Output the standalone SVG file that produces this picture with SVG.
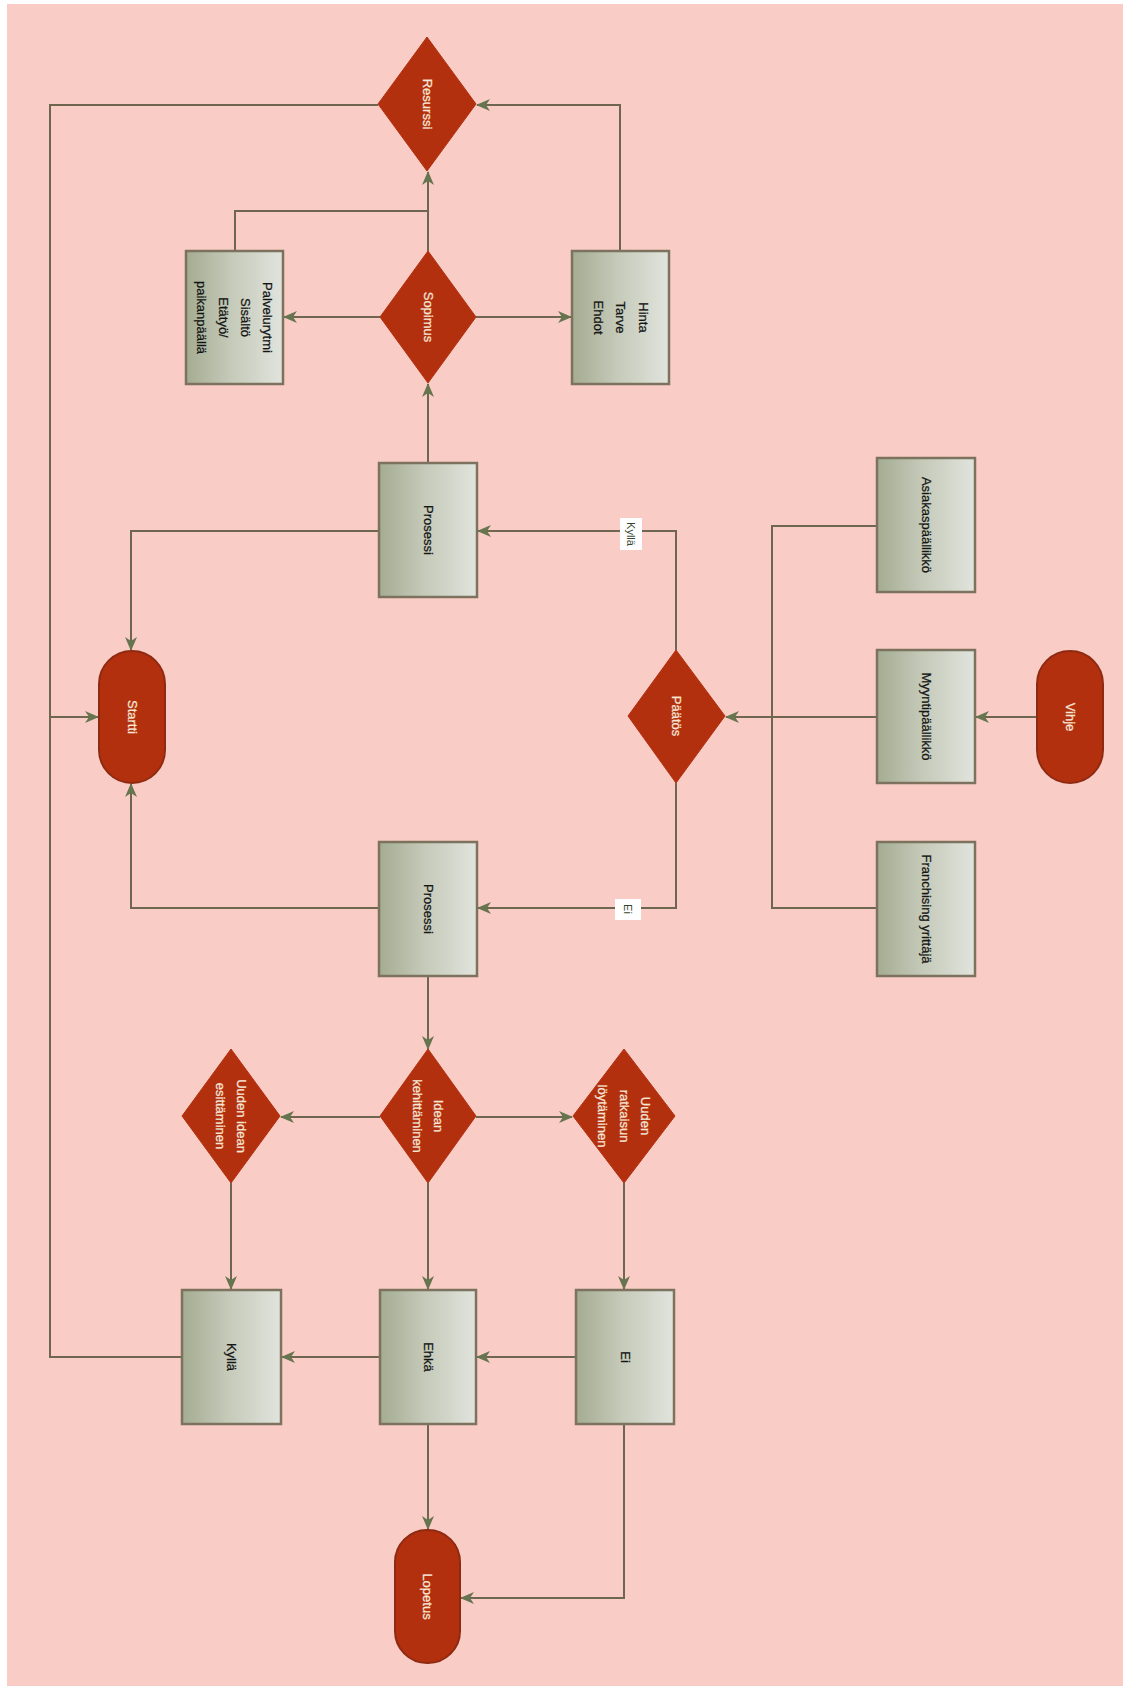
<svg xmlns="http://www.w3.org/2000/svg" width="1123" height="1686" viewBox="0 0 1123 1686">
  <defs>
    <linearGradient id="boxFill" x1="0" y1="0" x2="1" y2="0">
      <stop offset="0" stop-color="#a4ac91"/>
      <stop offset="0.45" stop-color="#c4c9b8"/>
      <stop offset="1" stop-color="#e1e4dd"/>
    </linearGradient>
    <marker id="arrow" viewBox="0 0 14 12" refX="13" refY="6" markerWidth="14" markerHeight="12" markerUnits="userSpaceOnUse" orient="auto">
      <path d="M0,0 L14,6 L0,12 L4,6 z" fill="#66744f"/>
    </marker>
  </defs>
  <style>
    .box { fill: url(#boxFill); stroke: #7c725e; stroke-width: 2.5; }
    .dec { fill: #b3300f; stroke: #b3300f; stroke-width: 1; }
    .term { fill: #b3300f; stroke: #8f2a12; stroke-width: 2; }
    .edge { fill: none; stroke: #6f6650; stroke-width: 2; }
    .arr { marker-end: url(#arrow); }
    .t { font-family: "Liberation Sans", Arial, sans-serif; font-size: 13px; text-anchor: middle; }
    .dark { fill: #151515; stroke: #151515; stroke-width: 0.25; }
    .light { fill: #f6e6d6; stroke: #f6e6d6; stroke-width: 0.25; }
    .lbl { fill: #ffffff; }
    .lt { font-family: "Liberation Sans", Arial, sans-serif; font-size: 11px; text-anchor: middle; fill: #34452c; }
  </style>

  <!-- page -->
  <rect x="0" y="0" width="1123" height="1686" fill="#ffffff"/>
  <rect x="7" y="4" width="1116" height="1682" fill="#f9cdc5"/>

  <!-- connectors -->
  <g id="connectors">
    <path class="edge arr" d="M378,105 H50 V717 H98"/>
    <path class="edge" d="M182,1357 H50 V717"/>
    <path class="edge arr" d="M620,251 V105 H477"/>
    <path class="edge" d="M235,251 V211 H428"/>
    <path class="edge arr" d="M428,251 V172"/>
    <path class="edge arr" d="M380,317 H284"/>
    <path class="edge arr" d="M476,317 H571"/>
    <path class="edge arr" d="M428,463 V384"/>
    <path class="edge arr" d="M379,531 H131 V650"/>
    <path class="edge arr" d="M676,650 V531 H478"/>
    <path class="edge arr" d="M676,783 V908 H478"/>
    <path class="edge arr" d="M379,908 H131 V784"/>
    <path class="edge" d="M877,526 H772 V908 H877"/>
    <path class="edge arr" d="M877,717 H726"/>
    <path class="edge arr" d="M1037,717 H976"/>
    <path class="edge arr" d="M428,976 V1049"/>
    <path class="edge arr" d="M380,1117 H281"/>
    <path class="edge arr" d="M476,1117 H572"/>
    <path class="edge arr" d="M231,1183 V1289"/>
    <path class="edge arr" d="M428,1183 V1289"/>
    <path class="edge arr" d="M624,1183 V1289"/>
    <path class="edge arr" d="M576,1357 H477"/>
    <path class="edge arr" d="M380,1357 H282"/>
    <path class="edge arr" d="M428,1424 V1529"/>
    <path class="edge arr" d="M624,1424 V1598 H461"/>
    <!-- edge labels -->
    <rect x="620" y="518" width="22" height="32" class="lbl"/>
    <text class="lt" transform="translate(631,534) rotate(90)" y="4">Kyllä</text>
    <rect x="615" y="899" width="26" height="21" class="lbl"/>
    <text class="lt" transform="translate(628,909) rotate(90)" y="4">Ei</text>
  </g>

  <!-- decisions -->
  <g id="resurssi">
    <polygon class="dec" points="427,37 476,104 427,171 378,104"/>
    <text class="t light" transform="translate(427,104) rotate(90)" y="4.5">Resurssi</text>
  </g>
  <g id="sopimus">
    <polygon class="dec" points="428,251 476,317 428,383 380,317"/>
    <text class="t light" transform="translate(428,317) rotate(90)" y="4.5">Sopimus</text>
  </g>
  <g id="paatos">
    <polygon class="dec" points="676,650 725,716 676,783 628,716"/>
    <text class="t light" transform="translate(676,716) rotate(90)" y="4.5">Päätös</text>
  </g>
  <g id="ideankehittaminen">
    <polygon class="dec" points="428,1049 476,1116 428,1183 380,1116"/>
    <text class="t light" transform="translate(428,1116) rotate(90)">
      <tspan x="0" y="-6">Idean</tspan><tspan x="0" y="15">kehittäminen</tspan>
    </text>
  </g>
  <g id="uuden-idean">
    <polygon class="dec" points="231,1049 280,1116 231,1183 182,1116"/>
    <text class="t light" transform="translate(231,1116) rotate(90)">
      <tspan x="0" y="-6">Uuden idean</tspan><tspan x="0" y="15">esittäminen</tspan>
    </text>
  </g>
  <g id="uuden-ratkaisun">
    <polygon class="dec" points="624,1049 675,1116 624,1183 573,1116"/>
    <text class="t light" transform="translate(624,1116) rotate(90)">
      <tspan x="0" y="-17">Uuden</tspan><tspan x="0" y="4.5">ratkaisun</tspan><tspan x="0" y="26">löytäminen</tspan>
    </text>
  </g>

  <!-- processes -->
  <g id="palvelurytmi">
    <rect class="box" x="186" y="251" width="97" height="133"/>
    <text class="t dark" transform="translate(234.5,317.5) rotate(90)">
      <tspan x="0" y="-28.5">Palvelurytmi</tspan><tspan x="0" y="-6.5">Sisältö</tspan><tspan x="0" y="15.5">Etätyö/</tspan><tspan x="0" y="37.5">paikanpäällä</tspan>
    </text>
  </g>
  <g id="hinta">
    <rect class="box" x="572" y="251" width="97" height="133"/>
    <text class="t dark" transform="translate(620.5,317.5) rotate(90)">
      <tspan x="0" y="-18">Hinta</tspan><tspan x="0" y="4.5">Tarve</tspan><tspan x="0" y="27">Ehdot</tspan>
    </text>
  </g>
  <g id="prosessi-1">
    <rect class="box" x="379" y="463" width="98" height="134"/>
    <text class="t dark" transform="translate(428,530) rotate(90)" y="4.5">Prosessi</text>
  </g>
  <g id="prosessi-2">
    <rect class="box" x="379" y="842" width="98" height="134"/>
    <text class="t dark" transform="translate(428,909) rotate(90)" y="4.5">Prosessi</text>
  </g>
  <g id="asiakaspaallikko">
    <rect class="box" x="877" y="458" width="98" height="134"/>
    <text class="t dark" transform="translate(926,525) rotate(90)" y="4.5">Asiakaspäällikkö</text>
  </g>
  <g id="myyntipaallikko">
    <rect class="box" x="877" y="650" width="98" height="133"/>
    <text class="t dark" transform="translate(926,716.5) rotate(90)" y="4.5">Myyntipäällikkö</text>
  </g>
  <g id="franchising">
    <rect class="box" x="877" y="842" width="98" height="134"/>
    <text class="t dark" transform="translate(926,909) rotate(90)" y="4.5">Franchising yrittäjä</text>
  </g>
  <g id="kylla">
    <rect class="box" x="182" y="1290" width="99" height="134"/>
    <text class="t dark" transform="translate(231.5,1357) rotate(90)" y="4.5">Kyllä</text>
  </g>
  <g id="ehka">
    <rect class="box" x="380" y="1290" width="96" height="134"/>
    <text class="t dark" transform="translate(428,1357) rotate(90)" y="4.5">Ehkä</text>
  </g>
  <g id="ei">
    <rect class="box" x="576" y="1290" width="98" height="134"/>
    <text class="t dark" transform="translate(625,1357) rotate(90)" y="4.5">Ei</text>
  </g>

  <!-- terminators -->
  <g id="startti">
    <rect class="term" x="99" y="651" width="66" height="132" rx="33" ry="33"/>
    <text class="t light" transform="translate(132,717) rotate(90)" y="4.5">Startti</text>
  </g>
  <g id="vihje">
    <rect class="term" x="1037" y="651" width="66" height="132" rx="33" ry="33"/>
    <text class="t light" transform="translate(1070,717) rotate(90)" y="4.5">Vihje</text>
  </g>
  <g id="lopetus">
    <rect class="term" x="395" y="1530" width="65" height="133" rx="32" ry="32"/>
    <text class="t light" transform="translate(427.5,1596.5) rotate(90)" y="4.5">Lopetus</text>
  </g>
</svg>
